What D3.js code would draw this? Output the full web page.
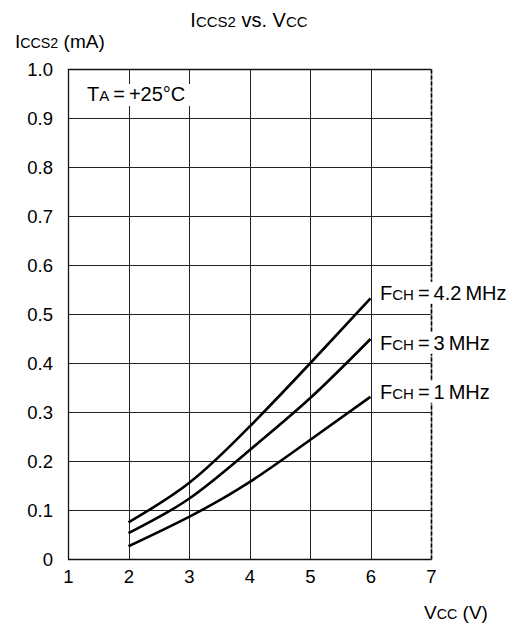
<!DOCTYPE html>
<html>
<head>
<meta charset="utf-8">
<script src="https://cdn.jsdelivr.net/npm/d3@7"></script>
<style>
  body { margin: 0; background: #fff; }
  text { font-family: "Liberation Sans", Arial, sans-serif; fill: #000; }
</style>
</head>
<body>
<div id="chart"></div>
<script>
'use strict';

/*** Data */
const vcc = [2, 3, 4, 5, 6];
// ICCS2 in mA for each clock frequency
const iccFch42 = [0.076, 0.156, 0.271, 0.400, 0.533];
const iccFch3  = [0.054, 0.124, 0.223, 0.329, 0.450];
const iccFch1  = [0.027, 0.087, 0.158, 0.244, 0.332];
const seriesNames = ["4.2", "3", "1"];
const labelAt = [0.530, 0.428, 0.328]; // where each curve label sits (mA)
const xTicks = [1, 2, 3, 4, 5, 6, 7];
const yTicks = [0, 0.1, 0.2, 0.3, 0.4, 0.5, 0.6, 0.7, 0.8, 0.9, 1.0];

/** Dimensions */
const w = 518;
const h = 627;
const padL = 68, padR = 431, padT = 69.5, padB = 559.5;

const svg = d3.select("#chart")
    .append("svg")
    .attr("width", w)
    .attr("height", h);

const xScale = d3.scaleLinear().domain([1, 7]).range([padL, padR]);
const yScale = d3.scaleLinear().domain([0, 1]).range([padB, padT]);

/** Grid */
const grid = svg.append("g");
grid.selectAll("line.v")
    .data(xTicks.slice(1, -1))
    .enter().append("line")
    .attr("x1", d => Math.round(xScale(d)) + 0.5)
    .attr("x2", d => Math.round(xScale(d)) + 0.5)
    .attr("y1", padT).attr("y2", padB)
    .attr("stroke", "#222").attr("stroke-width", 1);
grid.selectAll("line.h")
    .data(yTicks.slice(1, -1))
    .enter().append("line")
    .attr("x1", padL).attr("x2", padR)
    .attr("y1", d => Math.round(yScale(d) - 0.5) + 0.5)
    .attr("y2", d => Math.round(yScale(d) - 0.5) + 0.5)
    .attr("stroke", "#222").attr("stroke-width", 1);

// frame: left, top, bottom solid; right dashed
svg.append("path")
    .attr("d", `M${padR + 0.5},${padT} H${padL + 0.5} V${padB} H${padR + 0.5}`)
    .attr("fill", "none").attr("stroke", "#111").attr("stroke-width", 1.3);
svg.append("line")
    .attr("x1", padR + 0.5).attr("x2", padR + 0.5)
    .attr("y1", padT).attr("y2", padB)
    .attr("stroke", "#888").attr("stroke-width", 1.5);
svg.append("line")
    .attr("x1", padR + 0.5).attr("x2", padR + 0.5)
    .attr("y1", padT).attr("y2", padB)
    .attr("stroke", "#000").attr("stroke-width", 1.5)
    .attr("stroke-dasharray", "4,2");

/** Axes (tick labels only) */
const xAxis = d3.axisBottom(xScale).tickValues(xTicks).tickSize(0).tickPadding(10)
    .tickFormat(d3.format("d"));
const yAxis = d3.axisLeft(yScale).tickValues(yTicks).tickSize(0).tickPadding(15)
    .tickFormat(d => d === 0 ? "0" : d3.format(".1f")(d));

const gx = svg.append("g").attr("transform", `translate(0,${padB})`).call(xAxis);
const gy = svg.append("g").attr("transform", `translate(${padL},0)`).call(yAxis);
[gx, gy].forEach(g => {
    g.select(".domain").remove();
    g.selectAll("text")
        .style("font-family", '"Liberation Sans", Arial, sans-serif')
        .style("font-size", "18.5px")
        .attr("fill", "#000");
});

/** Curves */
const line = d3.line()
    .x((d, i) => xScale(vcc[i]))
    .y(d => yScale(d))
    .curve(d3.curveNatural);

svg.selectAll("path.curve")
    .data([iccFch42, iccFch3, iccFch1])
    .enter().append("path")
    .attr("class", "curve")
    .attr("d", line)
    .attr("fill", "none")
    .attr("stroke", "#000")
    .attr("stroke-width", 2.6);

/** Text helper: main text with small "subscript" runs on the same baseline */
function label(x, y, parts, size, anchor) {
    const t = svg.append("text")
        .attr("x", x).attr("y", y)
        .attr("text-anchor", anchor || "start")
        .style("font-size", size + "px");
    parts.forEach(p => {
        t.append("tspan")
            .style("font-size", (p.sub ? size * 0.75 : size) + "px")
            .text(p.t);
    });
    return t;
}

// curve labels with white backing
seriesNames.forEach((n, i) => {
    const base = yScale(labelAt[i]);
    svg.append("rect")
        .attr("x", 375).attr("y", base - 18)
        .attr("width", 143).attr("height", 22)
        .attr("fill", "#fff");
    label(380, base, [{t: "F"}, {t: "CH", sub: true}, {t: "\u2009=\u2009" + n + "\u2009MHz"}], 20);
});

// temperature note
svg.append("rect").attr("x", 84).attr("y", 84).attr("width", 108).attr("height", 22).attr("fill", "#fff");
label(87, 101, [{t: "T"}, {t: "A", sub: true}, {t: "\u2009=\u2009+25\u00B0C"}], 20);

// title and axis titles
label(249, 27, [{t: "I"}, {t: "CCS2", sub: true}, {t: " vs. V"}, {t: "CC", sub: true}], 20, "middle");
label(15, 48, [{t: "I"}, {t: "CCS2", sub: true}, {t: " (mA)"}], 19);
label(424, 619, [{t: "V"}, {t: "CC", sub: true}, {t: " (V)"}], 19);
</script>
</body>
</html>
